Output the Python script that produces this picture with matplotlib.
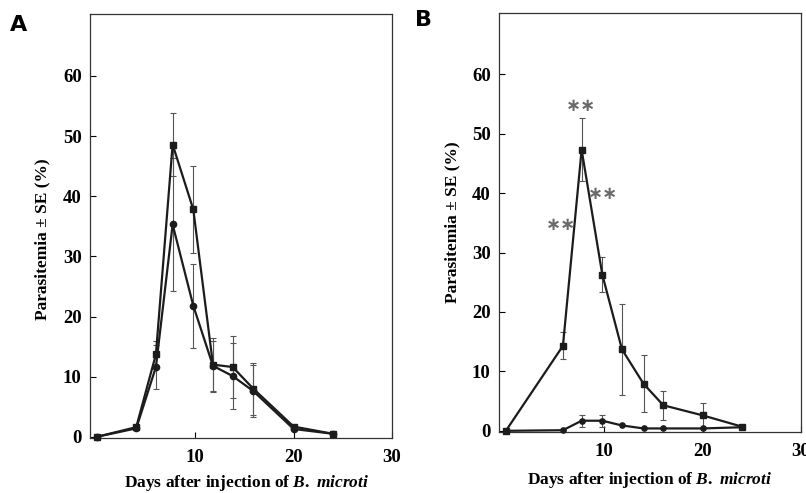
import matplotlib
matplotlib.use("Agg")
import matplotlib.pyplot as plt

plt.rcParams["font.family"] = ["Liberation Serif", "DejaVu Serif"]
plt.rcParams["font.weight"] = "bold"
plt.rcParams["axes.labelweight"] = "bold"
plt.rcParams["mathtext.fontset"] = "custom"
plt.rcParams["mathtext.rm"] = "Liberation Serif:bold"
plt.rcParams["mathtext.it"] = "Liberation Serif:italic:bold"

# Panel A
days_a = [0, 4, 6, 7.7, 9.8, 11.8, 13.8, 15.9, 20, 24]
a1 = [0, 1.6, 13.7, 48.6, 37.8, 12.0, 11.6, 8.0, 1.7, 0.5]
a1_se = [0, 0, 2.2, 5.3, 7.3, 4.5, 5.1, 4.3, 0, 0]
a2 = [0, 1.4, 11.6, 35.3, 21.8, 11.8, 10.1, 7.6, 1.3, 0.5]
a2_se = [0, 0, 3.7, 11.0, 7.0, 4.2, 5.5, 4.3, 0, 0]

# Panel B
days_b = [0, 5.8, 7.7, 9.8, 11.8, 14, 16, 20, 24]
b1 = [0, 14.3, 47.3, 26.3, 13.7, 7.9, 4.3, 2.6, 0.7]
b1_se = [0, 2.3, 5.3, 3.0, 7.7, 4.8, 2.4, 2.0, 0]
b2 = [0, 0.1, 1.7, 1.7, 0.9, 0.4, 0.4, 0.4, 0.6]
b2_se = [0, 0, 1.0, 1.0, 0, 0, 0, 0, 0]

stars_x = [7.6, 5.6, 9.9]
stars_y = [54.7, 34.7, 39.8]

ylabel = "Parasitemia ± SE (%)"
xlabel = r"Days after injection of $B.\ microti$"

fig = plt.figure(figsize=(8.06, 4.93), dpi=100)
axA = fig.add_axes([90 / 806, 1 - 438 / 493, 302 / 806, 424 / 493])
axB = fig.add_axes([499 / 806, 1 - 432 / 493, 302 / 806, 419 / 493])

line_kw = dict(color="#1c1c1c", lw=1.6, clip_on=False, zorder=3)
err_kw = dict(fmt="none", ecolor="#555555", elinewidth=0.8, capsize=2, capthick=0.8, zorder=2)

axA.errorbar(days_a, a1, yerr=a1_se, **err_kw)
axA.errorbar(days_a, a2, yerr=a2_se, **err_kw)
axA.plot(days_a, a1, marker="s", ms=4.5, **line_kw)
axA.plot(days_a, a2, marker="o", ms=4.5, **line_kw)

axB.errorbar(days_b, b1, yerr=b1_se, **err_kw)
axB.errorbar(days_b, b2, yerr=b2_se, **err_kw)
axB.plot(days_b, b1, marker="s", ms=4.5, **line_kw)
axB.plot(days_b, b2, marker="o", ms=3.8, **line_kw)

for x, y in zip(stars_x, stars_y):
    axB.text(x, y, "\u2217\u2217", ha="center", va="center", fontsize=13,
             color="#6a6a6a", family="DejaVu Sans", fontweight="bold")

for ax in (axA, axB):
    ax.set_xlim(-0.7, 30)
    ax.set_ylim(-0.2, 70.3)
    ax.set_xticks([10, 20, 30])
    ax.set_yticks([0, 10, 20, 30, 40, 50, 60])
    ax.tick_params(direction="in", length=4, width=0.8, labelsize=13.5)
    ax.tick_params(axis="x", pad=8)
    ax.tick_params(axis="y", pad=6)
    for s in ax.spines.values():
        s.set_linewidth(0.9)
        s.set_color("#333333")
    ax.set_ylabel(ylabel, fontsize=12.5)

axA.yaxis.set_label_coords(-40 / 302, 0.47)
axB.yaxis.set_label_coords(-39 / 302, 0.5)

axA.set_xlabel(xlabel, fontsize=12.5)
axB.set_xlabel(xlabel, fontsize=12.5)
axA.xaxis.set_label_coords(0.52, -35 / 424)
axB.xaxis.set_label_coords(0.5, -38 / 419)

fig.text(10 / 806, 1 - 25 / 493, "A", fontsize=16, fontweight="bold",
         family="DejaVu Sans", va="center")
fig.text(415 / 806, 1 - 20 / 493, "B", fontsize=16, fontweight="bold",
         family="DejaVu Sans", va="center")

fig.savefig("out.png", dpi=100)
